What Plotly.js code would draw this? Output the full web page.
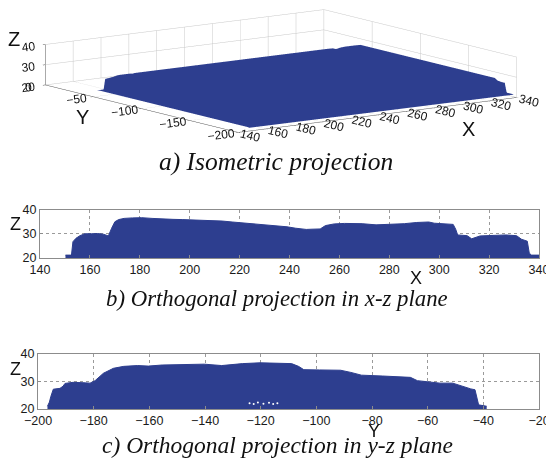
<!DOCTYPE html>
<html>
<head>
<meta charset="utf-8">
<script src="https://cdn.plot.ly/plotly-3.0.1.min.js"></script>
<style>
html,body{margin:0;padding:0;background:#fff;}
#chart{width:546px;height:472px;}
</style>
</head>
<body>
<div id="chart"></div>
<script>
// ---- Data ----
// x-z projection (upper outline of the point cloud)
const profileX = [150.2,152.6,153.2,154.4,156,158,160.7,163,165.4,167.4,168.7,170,171.5,173.7,177,180.7,184.9,189,193.3,197,201.8,207,213,217,221.4,225,229.8,235.4,239,242.5,246.7,249,252.3,254.4,257.9,262,266,269.1,274.7,280,286,291,295.8,298,300.7,305.6,306.6,307.4,311.2,313,316.4,320,326.7,331,333,335.3,336.1,337,340.1];
const profileXZ = [21.2,21.2,26.8,28.2,29.3,30.1,30.1,30.2,29.9,29.2,32.4,35.1,36,36.5,36.7,36.8,36.5,36.2,36.1,36,35.9,35.6,35.4,35,34.6,34.2,33.6,33.4,33,32.4,31.9,32,32.1,33.5,34.2,34.4,34.5,34.3,33.8,33.9,34.3,34.8,35,34.5,34.3,34,32,29.6,29.3,28,29.2,29.4,29.6,29.3,27.8,27,22,21.2,21.2];
// y-z projection (upper outline of the point cloud)
const profileY = [-196.6,-195.9,-195.4,-194.5,-192.1,-191,-190.3,-187.4,-183,-181.3,-179.5,-176.5,-172.9,-169.2,-164.2,-160.4,-155.4,-147.9,-140.3,-134,-126.5,-120.2,-113.9,-108.9,-106.4,-104.5,-98.9,-91.3,-87.6,-83.8,-76.3,-70,-66.2,-63.7,-60,-55.6,-51,-48,-44.5,-43,-42.2,-41.7,-38.8];
const profileYZ = [21,22.5,24.5,27.2,27.5,28.3,29.3,29.7,29.5,29.4,30.3,33,34.8,35.5,35.8,35.6,36,36.1,36.3,35.8,36.5,36.8,36.6,36.5,35.5,34.3,34.2,34.1,33.3,32.3,32,31.8,31.5,30.3,29.9,29.4,29.4,28.3,27.3,27,24,21.5,21];
// white gaps in the y-z view
const gapY = [-124,-122.5,-121,-119,-117,-115.5,-114];
const gapZ = [22.1,21.8,22.4,21.9,22.3,21.8,22.1];

const xTicks = [140,160,180,200,220,240,260,280,300,320,340];
const yTicks = [-200,-180,-160,-140,-120,-100,-80,-60,-40,-20];
const yTicks3d = [-200,-150,-100,-50,0];
const zTicks = [20,30,40];

// ---- Styles ----
const BLUE = '#2D3E8F';
const FONT = 'Liberation Sans, Arial, sans-serif';
const SERIF = 'Liberation Serif, Times New Roman, serif';
const FRAME = '#8c8c8c';

// surface for the isometric view, built from the two projections
const surfZ = profileYZ.map(zy => profileXZ.map(zx => Math.min(zx, zy)));

const traces = [
  {
    type: 'surface', x: profileX, y: profileY, z: surfZ,
    colorscale: [[0, BLUE], [1, BLUE]], showscale: false,
    lighting: {ambient: 1, diffuse: 0, specular: 0, fresnel: 0, roughness: 1},
    contours: {x:{show:false}, y:{show:false}, z:{show:false}},
    hoverinfo: 'skip', scene: 'scene'
  },
  {
    type: 'scatter', x: profileX, y: profileXZ, xaxis: 'x', yaxis: 'y',
    mode: 'lines', line: {color: BLUE, width: 1}, fill: 'tozeroy', fillcolor: BLUE,
    hoverinfo: 'skip'
  },
  {
    type: 'scatter', x: profileY, y: profileYZ, xaxis: 'x2', yaxis: 'y2',
    mode: 'lines', line: {color: BLUE, width: 1}, fill: 'tozeroy', fillcolor: BLUE,
    hoverinfo: 'skip'
  },
  {
    type: 'scatter', x: gapY, y: gapZ, xaxis: 'x2', yaxis: 'y2',
    mode: 'markers', marker: {color: '#ffffff', size: 2}, hoverinfo: 'skip'
  }
];

const ax2d = {
  showgrid: true, gridcolor: '#9a9a9a', griddash: 'dot', gridwidth: 1,
  showline: true, mirror: true, linecolor: FRAME, linewidth: 1,
  ticks: 'inside', ticklen: 3, tickcolor: FRAME,
  zeroline: false, fixedrange: true, ticklabeloverflow: 'allow',
  tickfont: {family: FONT, size: 12.5, color: '#1a1a1a'}
};
const ax3d = {
  showgrid: true, gridcolor: '#c8c8c8', gridwidth: 1,
  showline: true, linecolor: '#555', linewidth: 1,
  showbackground: false, zeroline: false, showspikes: false,
  ticks: 'outside', ticklen: 3, tickcolor: '#555',
  title: {text: ''},
  tickfont: {family: FONT, size: 12, color: '#1a1a1a'}
};

const k = 10;
const s = 4.82;
const ann = (text, px, py, size, fam, extra) => Object.assign({
  text: text, x: px / 546, y: 1 - py / 472, xref: 'paper', yref: 'paper',
  xanchor: 'center', yanchor: 'middle', showarrow: false,
  font: {family: fam || FONT, size: size, color: '#111'}
}, extra || {});
const cap = (text, px, py, size) => ann(text, px, py, size, SERIF,
  {font: {family: SERIF, size: size, color: '#111', style: 'italic'}});

const layout = {
  width: 546, height: 472,
  margin: {l: 0, r: 0, t: 0, b: 0},
  paper_bgcolor: '#fff', plot_bgcolor: '#fff',
  showlegend: false,
  scene: {
    domain: {x: [0.03, 1], y: [0.70, 1]},
    bgcolor: '#fff',
    dragmode: false,
    xaxis: Object.assign({}, ax3d, {range: [140, 340], tickvals: xTicks}),
    yaxis: Object.assign({}, ax3d, {range: [-200, 0], tickvals: yTicks3d}),
    zaxis: Object.assign({}, ax3d, {range: [20, 40], tickvals: zTicks}),
    aspectmode: 'manual', aspectratio: {x: 1 * s, y: 0.97 * s, z: 0.12 * s},
    camera: {
      eye: {x: -0.5717 * k, y: -0.8014 * k, z: 0.1757 * k},
      center: {x: 0, y: 0, z: 0},
      up: {x: 0, y: 0, z: 1},
      projection: {type: 'orthographic'}
    }
  },
  xaxis: Object.assign({}, ax2d, {domain: [0.0733, 0.9872], anchor: 'y', range: [140, 340], tickvals: xTicks}),
  yaxis: Object.assign({}, ax2d, {domain: [0.4534, 0.5551], anchor: 'x', range: [20, 40], tickvals: zTicks}),
  xaxis2: Object.assign({}, ax2d, {domain: [0.0696, 0.9872], anchor: 'y2', range: [-200, -20], tickvals: yTicks}),
  yaxis2: Object.assign({}, ax2d, {domain: [0.1335, 0.25], anchor: 'x2', range: [20, 40], tickvals: zTicks}),
  annotations: [
    ann('Z', 14, 39, 20),
    ann('Y', 82, 117, 20),
    ann('X', 468, 129, 20),
    ann('Z', 15.5, 224, 18),
    ann('X', 415.5, 278, 18),
    ann('Z', 15.5, 369, 18),
    ann('Y', 374, 431, 18),
    cap('a) Isometric projection', 276, 161, 25.5),
    cap('b) Orthogonal projection in x-z plane', 277, 298, 22.8),
    cap('c) Orthogonal projection in y-z plane', 277, 445, 23.5)
  ]
};

Plotly.newPlot('chart', traces, layout, {displayModeBar: false});
</script>
</body>
</html>
